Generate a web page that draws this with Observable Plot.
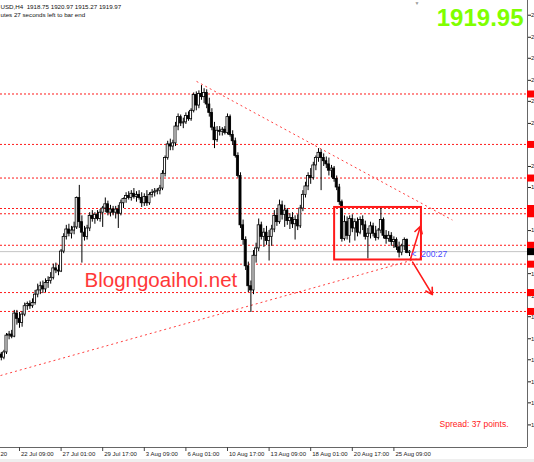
<!DOCTYPE html>
<html><head><meta charset="utf-8">
<script src="https://cdn.jsdelivr.net/npm/d3@7"></script>
<script src="https://cdn.jsdelivr.net/npm/@observablehq/plot@0.6"></script>
<style>
html,body{margin:0;padding:0;overflow:hidden;background:#efefef;}
#c{width:534px;height:462px;}
</style></head>
<body><div id="c"></div>
<script>
// ---- data (XAUUSD H4) ----
const firstOpen = 1822;
const closes = [
1819,1824,1840,1841,1839,1861,1856,1852,1860,1868,
1870,1868,1871,1879,1883,1887,1884,1890,1892,1895,
1904,1902,1901,1920,1934,1941,1937,1940,1943,1971,
1948,1938,1934,1942,1954,1951,1955,1951,1957,1961,
1965,1957,1960,1957,1960,1956,1966,1970,1973,1971,
1975,1972,1974,1971,1966,1972,1966,1974,1976,1977,
1978,1980,1994,2009,2022,2020,2023,2039,2048,2042,
2043,2049,2046,2054,2069,2059,2070,2067,2071,2060,
2052,2038,2026,2035,2034,2036,2033,2048,2031,2025,
2011,1992,1945,1931,1906,1887,1883,1916,1923,1945,
1934,1938,1930,1934,1941,1954,1948,1964,1955,1959,
1949,1952,1946,1950,1944,1961,1974,1982,1992,1990,
2002,2009,2014,2009,2006,2003,1997,1999,1989,1981,
1967,1932,1948,1935,1951,1942,1948,1938,1950,1945,
1934,1937,1944,1937,1933,1940,1950,1935,1932,1935,
1929,1931,1924,1919,1925,1931,1918.75,1919.97];
const highs = [
1824,1826,1842,1844,1845,1864,1864,1862,1863,1871,
1872,1873,1875,1883,1889,1891,1892,1894,1896,1900,
1908,1909,1907,1922,1937,1945,1946,1944,1948,1972,
1983,1954,1944,1945,1957,1959,1957,1959,1960,1963,
1971,1968,1964,1963,1963,1964,1969,1971,1976,1977,
1978,1980,1977,1978,1976,1975,1978,1976,1979,1980,
1980,1983,1997,2011,2025,2027,2026,2043,2051,2050,
2047,2052,2053,2056,2071,2072,2073,2078,2075,2074,
2066,2056,2043,2039,2039,2038,2039,2051,2050,2035,
2028,2014,1995,1950,1934,1910,1892,1921,1928,1951,
1948,1942,1944,1940,1945,1959,1961,1969,1968,1964,
1961,1956,1957,1954,1955,1964,1978,1986,1995,1999,
2005,2011,2018,2017,2013,2010,2009,2002,2001,1992,
1984,1969,1954,1953,1954,1955,1951,1952,1953,1954,
1949,1942,1948,1947,1944,1942,1962,1952,1940,1939,
1938,1934,1933,1929,1927,1933,1932,1920.97];
const lows = [
1816,1817,1822,1836,1837,1838,1850,1847,1848,1858,
1864,1865,1866,1869,1876,1879,1880,1881,1885,1889,
1893,1899,1897,1900,1918,1931,1934,1932,1936,1941,
1942,1909,1930,1931,1939,1948,1946,1949,1948,1943,
1957,1954,1953,1954,1951,1942,1954,1961,1966,1969,
1968,1970,1967,1969,1962,1963,1963,1964,1971,1972,
1974,1974,1978,1991,2007,2016,2016,2020,2035,2039,
2037,2041,2044,2044,2052,2054,2056,2064,2061,2056,
2048,2035,2018,2024,2030,2030,2031,2031,2029,2021,
2009,1990,1942,1926,1902,1881,1862,1879,1909,1920,
1931,1924,1926,1911,1925,1938,1944,1946,1950,1943,
1945,1941,1942,1931,1940,1942,1958,1971,1978,1984,
1988,1997,2005,1978,2001,1999,1992,1990,1986,1978,
1964,1929,1930,1931,1928,1938,1930,1934,1936,1940,
1931,1913,1932,1934,1930,1931,1937,1932,1927,1929,
1925,1923,1921,1914,1916,1921,1918,1915.27];

const timeTickIndex = [7, 23, 39, 55, 71, 87, 103, 119, 135, 151];
const timeTickLabels = ["22 Jul 09:00","27 Jul 01:00","29 Jul 17:00","3 Aug 09:00","6 Aug 01:00","10 Aug 17:00","13 Aug 09:00","18 Aug 01:00","20 Aug 17:00","25 Aug 09:00"];
const clippedTimeLabel = "20";
const priceTicks = [2145,2124,2104,2083,2063,2042,2022,2001,1981,1960,1940,1919,1899,1878,1858,1837,1817,1796,1776,1755];
const levels = [2070, 2022, 1990, 1961, 1956, 1926, 1908, 1881, 1863];
const bid = 1919.95;
const trendFrom = [[75.1, 2082], [-0.3, 1802]];
const trendTo   = [[173.5, 1950], [161.2, 1914]];
const boxX = [128.2, 161.6], boxP = [1912, 1962];
const arrowFrom = [[157.4, 1913], [158.2, 1910]];
const arrowTo   = [[161.2, 1944], [165.8, 1879]];
const header1 = "USD,H4  1918.75 1920.97 1915.27 1919.97";
const header2 = "utes 27 seconds left to bar end";
const countdown = "<  200:27";
const spreadText = "Spread: 37 points.";
const watermark = "Blogngoaihoi.net";

// ---- build tables ----
const bars = closes.map((c, i) => ({i, open: i === 0 ? firstOpen : closes[i-1], close: c, high: highs[i], low: lows[i]}));
const xTicks = timeTickIndex.map((i, k) => ({i, label: timeTickLabels[k]}));
const trends = trendFrom.map((a, k) => ({x1: a[0], y1: a[1], x2: trendTo[k][0], y2: trendTo[k][1]}));
const arrows = arrowFrom.map((a, k) => ({x1: a[0], y1: a[1], x2: arrowTo[k][0], y2: arrowTo[k][1]}));
const xDomain = [-0.3077, 202.385];
const yDomain = [1733.5, 2159];
const red = "#ff1a1a";
const F = "Liberation Sans, Arial, sans-serif";

const chart = Plot.plot({
  width: 534, height: 459,
  marginLeft: 0, marginRight: 7, marginTop: 0, marginBottom: 12,
  style: {fontFamily: F, fontSize: "6px", background: "white", color: "#222"},
  x: {type: "linear", domain: xDomain, axis: null},
  y: {domain: yDomain, axis: "right", ticks: priceTicks, tickSize: 3, tickPadding: 0.5, tickFormat: d => String(d)[0]},
  marks: [
    Plot.ruleY([bid], {stroke: "#c4c4c4"}),
    Plot.ruleY(levels, {stroke: red, strokeDasharray: "2,2"}),
    Plot.link(trends, {x1: "x1", y1: "y1", x2: "x2", y2: "y2", stroke: "#ff4040", strokeDasharray: "2,3"}),
    Plot.ruleX(bars, {x: "i", y1: "low", y2: "high", stroke: "#000", strokeWidth: 1}),
    Plot.rect(bars, {x1: d => d.i - 0.4, x2: d => d.i + 0.4, y1: "open", y2: "close",
      fill: d => d.close >= d.open ? "#fff" : "#000", stroke: "#000", strokeWidth: 0.8}),
    Plot.rect([{}], {x1: () => boxX[0], x2: () => boxX[1], y1: () => boxP[0], y2: () => boxP[1], fill: "none", stroke: red, strokeWidth: 2}),
    Plot.arrow(arrows, {x1: "x1", y1: "y1", x2: "x2", y2: "y2", stroke: red, strokeWidth: 1.6, headLength: 7}),
    Plot.ruleX([xDomain[1]], {stroke: "#666"}),
    Plot.ruleY([yDomain[0]], {stroke: "#666"}),
    Plot.ruleY(levels, {stroke: "#ff0000", strokeWidth: 7, insetLeft: 527, insetRight: -7}),
    Plot.ruleY([bid], {stroke: "#000", strokeWidth: 7, insetLeft: 527, insetRight: -7}),
    Plot.ruleX(xTicks, {x: "i", insetTop: 447, insetBottom: -4, stroke: "#444"}),
    Plot.text(xTicks, {x: "i", text: "label", frameAnchor: "bottom", dy: 4, dx: 1.5, textAnchor: "start", lineAnchor: "top", fontSize: 6, fill: "#222"}),
    Plot.text([clippedTimeLabel], {frameAnchor: "bottom-left", dy: 4, dx: 0, textAnchor: "start", lineAnchor: "top", fontSize: 6, fill: "#222"}),
    Plot.text([header1], {frameAnchor: "top-left", dx: 0, dy: 4, textAnchor: "start", lineAnchor: "top", fontSize: 6.2, fill: "#111"}),
    Plot.text([header2], {frameAnchor: "top-left", dx: 0, dy: 12.5, textAnchor: "start", lineAnchor: "top", fontSize: 6.2, fill: "#111"}),
    Plot.text(["▼"], {frameAnchor: "top-left", dx: 414, dy: 1, textAnchor: "start", lineAnchor: "top", fontSize: 5, fill: "#999"}),
    Plot.text([bid.toFixed(2)], {frameAnchor: "top-right", dx: -4, dy: 8, textAnchor: "end", lineAnchor: "top", fontSize: 24, fontWeight: "bold", fill: "#80ff00"}),
    Plot.text([watermark], {frameAnchor: "top-left", dx: 84, dy: 272, textAnchor: "start", lineAnchor: "top", fontSize: 20.5, fill: "#ff3838"}),
    Plot.text([spreadText], {frameAnchor: "top-left", dx: 439, dy: 420, textAnchor: "start", lineAnchor: "top", fontSize: 8.5, fill: "#ff2020"}),
    Plot.text([countdown], {frameAnchor: "top-left", dx: 411, dy: 254, textAnchor: "start", lineAnchor: "middle", fontSize: 8.5, fill: "#4a4aff"})
  ]
});
document.getElementById("c").appendChild(chart);
</script>
</body></html>
